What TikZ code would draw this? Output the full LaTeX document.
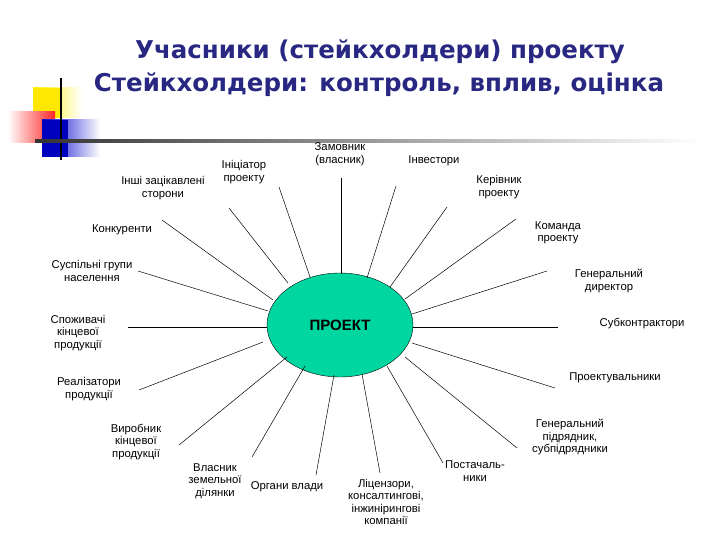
\documentclass[tikz,border=0pt]{standalone}
\usetikzlibrary{shapes.geometric}
\usepackage{fontspec}
\setmainfont{Liberation Sans}
\newfontfamily\titlefont{DejaVu Sans}
\definecolor{navy}{RGB}{40,40,130}
\definecolor{teal}{RGB}{0,214,160}
\begin{document}
\begin{tikzpicture}[x=1pt,y=-1pt,
  lbl/.style={align=center,font=\fontsize{11.3}{12.5}\selectfont,inner sep=0pt},
  ttl/.style={font=\titlefont\bfseries\fontsize{24.5}{28}\selectfont,text=navy,inner sep=0pt},
  spoke/.style={draw=black,line width=0.5pt}]
\useasboundingbox[fill=white] (0,0) rectangle (720,540);
% logo
\shade[left color=yellow!90!orange,right color=white] (33,88) rectangle (82,118);
\fill[yellow!90!orange] (33,88) rectangle (62,118);
\shade[left color=white,right color=red!85] (8,112) rectangle (55,143);
\shade[left color=blue!80!black,right color=white] (42,120) rectangle (100,157);
\fill[blue!75!black] (42,120) rectangle (68,157);
\draw[line width=2pt] (61,78) -- (61,160);
\shade[left color=black!80,right color=white] (35,140) rectangle (700,142.5);
% title
\node[ttl] (t1) at (380,52) {Учасники (стейкхолдери) проекту};
\node[ttl] (t2) at (379,85) {Стейкхолдери: контроль, вплив, оцінка};
% center
\node[draw=black,fill=teal,ellipse,minimum width=146pt,minimum height=104pt,inner sep=0pt,
  font=\bfseries\fontsize{15}{17}\selectfont] (P) at (340,325) {ПРОЕКТ};
% labels
\node[lbl] (a1) at (163,188) {Інші зацікавлені\\сторони};
\node[lbl] (a2) at (244,172) {Ініціатор\\проекту};
\node[lbl] (a3) at (340,154) {Замовник\\(власник)};
\node[lbl] (a4) at (434,161) {Інвестори};
\node[lbl] (a5) at (499,187) {Керівник\\проекту};
\node[lbl] (a6) at (558,233) {Команда\\проекту};
\node[lbl] (a7) at (122,230) {Конкуренти};
\node[lbl] (a8) at (92,271) {Суспільні групи\\населення};
\node[lbl] (a9) at (609,281) {Генеральний\\директор};
\node[lbl] (a10) at (78,333) {Споживачі\\кінцевої\\продукції};
\node[lbl] (a11) at (642,324) {Субконтрактори};
\node[lbl] (a12) at (89,389) {Реалізатори\\продукції};
\node[lbl] (a13) at (615,378) {Проектувальники};
\node[lbl] (a14) at (136,442) {Виробник\\кінцевої\\продукції};
\node[lbl] (a15) at (570,437) {Генеральний\\підрядник,\\субпідрядники};
\node[lbl] (a16) at (215,481) {Власник\\земельної\\ділянки};
\node[lbl] (a17) at (287,487) {Органи влади};
\node[lbl] (a18) at (386,502) {Ліцензори,\\консалтингові,\\інжинірингові\\компанії};
\node[lbl] (a19) at (475,471) {Постачаль-\\ники};
% spoke ends
\foreach \n/\ox/\oy/\ix/\iy in {
 e1/229/208/288/283, e2/279/187/310/277, e3/341/178/341/274, e4/396/186/367/278,
 e5/447/207/390/287, e6/516/219/405/299, e7/162/220/273/300, e8/138/271/268/311,
 e9/547/271/412/314, e10/128/327/267/327, e11/558/327/413/327, e12/139/390/263/342,
 e13/555/388/412/343, e14/179/445/287/357, e15/517/448/405/357, e16/252/457/305/366,
 e17/316/475/334/375, e18/380/473/362/374, e19/443/463/387/366}{
 \coordinate (\n) at (\ox,\oy);
 \coordinate (\n i) at (\ix,\iy);
}
\foreach \n in {e1,e2,e3,e4,e5,e6,e7,e8,e9,e10,e11,e12,e13,e14,e15,e16,e17,e18,e19}
 \draw[spoke] (\n) -- (\n i);
\end{tikzpicture}
\end{document}
